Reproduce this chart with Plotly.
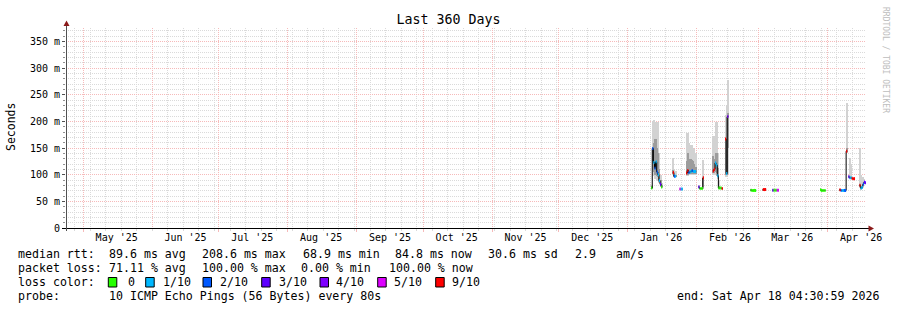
import plotly.graph_objects as go
from datetime import datetime, timedelta

# ---------------- data ----------------
START = "2025-04-23 04:30:59"
END = "2026-04-18 04:30:59"
STEP_HOURS = 12

sample_time = [
    "2026-01-11 12:00", "2026-01-12 00:00", "2026-01-12 12:00", "2026-01-13 00:00", "2026-01-13 12:00",
    "2026-01-14 00:00", "2026-01-14 12:00", "2026-01-15 00:00", "2026-01-15 12:00", "2026-01-16 00:00",
    "2026-01-21 06:00", "2026-01-21 18:00", "2026-01-22 06:00",
    "2026-01-24 06:00", "2026-01-24 18:00", "2026-01-25 06:00",
    "2026-01-27 06:00", "2026-01-27 18:00", "2026-01-28 06:00", "2026-01-28 18:00", "2026-01-29 06:00",
    "2026-01-29 18:00", "2026-01-30 06:00", "2026-01-30 18:00", "2026-01-31 06:00",
    "2026-02-01 18:00", "2026-02-02 06:00", "2026-02-02 18:00", "2026-02-03 06:00", "2026-02-03 18:00",
    "2026-02-08 06:00", "2026-02-08 18:00", "2026-02-09 06:00", "2026-02-09 18:00", "2026-02-10 06:00",
    "2026-02-10 18:00", "2026-02-11 06:00", "2026-02-11 18:00", "2026-02-12 06:00",
    "2026-02-13 18:00", "2026-02-14 06:00", "2026-02-14 18:00",
    "2026-02-25 06:00", "2026-02-25 18:00", "2026-02-26 06:00", "2026-02-26 18:00", "2026-02-27 06:00",
    "2026-03-02 18:00", "2026-03-03 06:00", "2026-03-03 18:00",
    "2026-03-07 00:00", "2026-03-07 12:00", "2026-03-08 00:00", "2026-03-08 12:00", "2026-03-09 00:00", "2026-03-09 12:00",
    "2026-03-28 12:00", "2026-03-29 00:00", "2026-03-29 12:00", "2026-03-30 00:00", "2026-03-30 12:00",
    "2026-04-06 06:00", "2026-04-06 18:00", "2026-04-07 06:00", "2026-04-07 18:00", "2026-04-08 06:00",
    "2026-04-08 18:00", "2026-04-09 06:00",
    "2026-04-10 06:00", "2026-04-10 18:00", "2026-04-11 06:00", "2026-04-11 18:00", "2026-04-12 06:00", "2026-04-12 18:00",
    "2026-04-15 06:00", "2026-04-15 18:00", "2026-04-16 06:00", "2026-04-16 18:00", "2026-04-17 06:00", "2026-04-17 18:00",
]

median_ms = [
    75, 149, 123, 112, 124, 105, 100, 89, 82, 77,
    104, 97, 97,
    73, 73, 73,
    103, 108, 104, 105, 106, 108, 106, 106, 106,
    77, 74, 74, 74, 94,
    107, 110, 122, 118, 98, 75, 75, 75, 74,
    167, 102, 209,
    71, 70.5, 70.5, 70.5, 70.5,
    72, 72, 72,
    71, 71, 71, 71, 71, 71,
    71.5, 70.5, 70.5, 70.5, 70.5,
    71.5, 70.5, 70.5, 70.5, 70.5, 70.5, 144,
    96, 94, 94, 93, 92.5, 92.5,
    80, 75, 76, 82, 86, 85,
]

# index into LOSS_LABELS / LOSS_COLORS
loss_level = [
    0, 2, 1, 2, 1, 2, 1, 1, 3, 0,
    6, 2, 1,
    5, 1, 1,
    6, 6, 2, 1, 1, 2, 1, 1, 1,
    3, 0, 0, 0, 6,
    6, 6, 1, 1, 1, 0, 0, 0, 6,
    6, 1, 4,
    0, 0, 0, 0, 0,
    6, 6, 6,
    3, 0, 0, 0, 5, 5,
    0, 0, 0, 0, 0,
    6, 2, 1, 1, 2, 2, 6,
    3, 1, 1, 6, 6, 6,
    6, 1, 1, 2, 3, 3,
]

N = None
smoke_outer_lo = [
    73, 110, 97, 92, 92, 90, 88, 85, 78, 75,
    100, 95, 95,
    N, N, N,
    98, 98, 100, 100, 100, 100, 100, 100, 100,
    75, N, N, N, 74,
    100, 100, 100, 98, 92, 74, N, N, N,
    96, 96, 102,
    N, N, N, N, N,
    N, N, N,
    N, N, N, N, N, N,
    N, N, N, N, N,
    N, N, N, N, N, N, 140,
    94, 92, 92, N, N, N,
    75, 72, 73, 78, 82, N,
]
smoke_outer_hi = [
    80, 200, 203, 198, 198, 198, 198, 140, 100, 85,
    131, 110, 106,
    N, N, N,
    178, 178, 159, 150, 156, 155, 150, 148, 140,
    80, N, N, N, 128,
    173, 173, 198, 198, 140, 90, N, N, N,
    212, 230, 278,
    N, N, N, N, N,
    N, N, N,
    N, N, N, N, N, N,
    N, N, N, N, N,
    N, N, N, N, N, N, 234,
    100, 131, 120, N, N, N,
    150, 100, 90, 95, 92, N,
]
smoke_inner_lo = [
    73, 125, 105, 100, 100, 98, 95, 86, 79, 76,
    101, 96, 96,
    N, N, N,
    100, 100, 101, 101, 102, 102, 102, 102, 102,
    N, N, N, N, 76,
    103, 103, 105, 103, 95, 74, N, N, N,
    100, 100, 150,
    69.5, N, N, N, N,
    71, N, N,
    N, N, N, N, N, N,
    70, N, N, N, N,
    70, N, N, N, N, N, 142,
    N, N, N, N, N, N,
    76, 73, N, N, N, N,
]
smoke_inner_hi = [
    78, 152, 160, 166, 166, 150, 140, 110, 90, 80,
    108, 100, 99,
    N, N, N,
    125, 140, 130, 125, 130, 128, 125, 120, 115,
    N, N, N, N, 94,
    135, 130, 140, 140, 112, 78, N, N, N,
    167, 209, 215,
    73, N, N, N, N,
    73.5, N, N,
    N, N, N, N, N, N,
    73, N, N, N, N,
    73, N, N, N, N, N, 150,
    N, N, N, N, N, N,
    82, 78, N, N, N, N,
]

LOSS_LABELS = ["0", "1/10", "2/10", "3/10", "4/10", "5/10", "9/10"]
LOSS_COLORS = ["#26ff00", "#00b8ff", "#0059ff", "#5e00ff", "#7e00ff", "#dd00ff", "#ff0000"]

MONTH_STARTS = ["2025-05-01", "2025-06-01", "2025-07-01", "2025-08-01", "2025-09-01", "2025-10-01",
                "2025-11-01", "2025-12-01", "2026-01-01", "2026-02-01", "2026-03-01", "2026-04-01"]
MONTH_LABEL_AT = ["2025-05-16", "2025-06-16", "2025-07-16", "2025-08-16", "2025-09-16", "2025-10-16",
                  "2025-11-16", "2025-12-16", "2026-01-16", "2026-02-16", "2026-03-16", "2026-04-16"]
MONTH_LABELS = ["May '25", "Jun '25", "Jul '25", "Aug '25", "Sep '25", "Oct '25",
                "Nov '25", "Dec '25", "Jan '26", "Feb '26", "Mar '26", "Apr '26"]
WEEK_TICK0 = "2025-04-27"

Y_RANGE = [0, 375]
Y_TICKS = [0, 50, 100, 150, 200, 250, 300, 350]
Y_TICK_LABELS = ["0", "50 m", "100 m", "150 m", "200 m", "250 m", "300 m", "350 m"]

TITLE = "Last 360 Days"
Y_TITLE = "Seconds"
RTT_STATS = ["median rtt:", "89.6 ms avg", "208.6 ms max", "68.9 ms min", "84.8 ms now", "30.6 ms sd", "2.9", "am/s"]
LOSS_STATS = ["packet loss:", "71.11 % avg", "100.00 % max", "0.00 % min", "100.00 % now"]
PROBE = ["probe:", "10 ICMP Echo Pings (56 Bytes) every 80s"]
END_TEXT = "end: Sat Apr 18 04:30:59 2026"
WATERMARK = "RRDTOOL / TOBI OETIKER"

# ---------------- layout helpers ----------------
W, H = 897, 310
L, T, PW, PH = 66, 28, 800, 200
FONT = "DejaVu Sans Mono"
RED = "#f6baba"
GRAY = "#dadada"


def fx(px):
    return (px - L) / PW


def fy(py):
    return (T + PH - py) / PH


fmt = "%Y-%m-%d %H:%M"
t = [datetime.strptime(s, fmt) for s in sample_time]
step = timedelta(hours=STEP_HOURS)
step_ms = STEP_HOURS * 3600 * 1000

fig = go.Figure()


def band(lo, hi, color):
    xs, base, hts = [], [], []
    for ti, a, b in zip(t, lo, hi):
        if a is None:
            continue
        xs.append(ti)
        base.append(a)
        hts.append(b - a)
    fig.add_trace(go.Bar(x=xs, y=hts, base=base, width=[step_ms] * len(xs), offset=0,
                         marker=dict(color=color, line=dict(width=0)), hoverinfo="skip"))


band(smoke_outer_lo, smoke_outer_hi, "#d2d2d2")
band(smoke_inner_lo, smoke_inner_hi, "#9c9c9c")

# median as a dark step line
sx, sy = [], []
for i, (ti, m) in enumerate(zip(t, median_ms)):
    if i > 0 and ti - t[i - 1] != step:
        sx += [t[i - 1] + step, None]
        sy += [median_ms[i - 1], None]
    sx.append(ti)
    sy.append(m)
sx.append(t[-1] + step)
sy.append(median_ms[-1])
fig.add_trace(go.Scatter(x=sx, y=sy, mode="lines", line=dict(color="#000000", width=1, shape="hv"),
                         hoverinfo="skip"))

# loss-coloured median segments
for k, col in enumerate(LOSS_COLORS):
    xs, ys = [], []
    for ti, m, lv in zip(t, median_ms, loss_level):
        if lv == k:
            xs += [ti, ti + step, None]
            ys += [m, m, None]
    if xs:
        fig.add_trace(go.Scatter(x=xs, y=ys, mode="lines", line=dict(color=col, width=3),
                                 hoverinfo="skip"))

# invisible carrier so the month-label axis is drawn
fig.add_trace(go.Scatter(x=[START, END], y=[0, 0], xaxis="x2", yaxis="y", mode="lines",
                         line=dict(width=0, color="rgba(0,0,0,0)"), hoverinfo="skip"))

ann = []


def txt(s, px, py, size=11.6, anchor="left", color="black", angle=0):
    ann.append(dict(text=s.replace(" ", "\u00a0"), x=fx(px), y=fy(py), xref="paper", yref="paper",
                    xanchor=anchor, yanchor="middle", showarrow=False, textangle=angle,
                    font=dict(family=FONT, size=size, color=color)))


txt(Y_TITLE, 11, 127, size=11.5, anchor="center", angle=-90)
txt(WATERMARK, 886, 60, size=8, anchor="center", color="#bdbdbd", angle=90)

for s, px in zip(RTT_STATS, [16, 107.3, 200, 300.7, 393.3, 486, 572.7, 614]):
    txt(s, px, 254.3)
for s, px in zip(LOSS_STATS, [16, 107.3, 200, 299.3, 386.7]):
    txt(s, px, 268.3)
txt("loss color:", 16, 282.3)
box_x = [108.3, 145.7, 203, 261.7, 320, 377.7, 435.7]
lab_x = [126, 160.7, 218, 276.7, 334, 391.7, 450]
shapes = []
for lab, col, bx, lx in zip(LOSS_LABELS, LOSS_COLORS, box_x, lab_x):
    txt(lab, lx, 282.3)
    shapes.append(dict(type="rect", xref="paper", yref="paper", x0=fx(bx), x1=fx(bx + 8.5),
                       y0=fy(287), y1=fy(277.5), fillcolor=col, line=dict(color="black", width=1)))
txt(PROBE[0], 16, 296.3)
txt(PROBE[1], 107.3, 296.3)
txt(END_TEXT, 880.7, 296.3, anchor="right")

# axis lines and arrows
shapes.append(dict(type="line", xref="paper", yref="paper", x0=fx(62), x1=fx(870), y0=fy(228.5), y1=fy(228.5),
                   line=dict(color="black", width=1)))
shapes.append(dict(type="line", xref="paper", yref="paper", x0=fx(66.5), x1=fx(66.5), y0=fy(231), y1=fy(24),
                   line=dict(color="#505050", width=1)))
shapes.append(dict(type="path", xref="paper", yref="paper",
                   path=f"M {fx(66.5)},{fy(20.5)} L {fx(63.5)},{fy(26)} L {fx(69.5)},{fy(26)} Z",
                   fillcolor="#8b1a1a", line=dict(color="#8b1a1a", width=0)))
shapes.append(dict(type="path", xref="paper", yref="paper",
                   path=f"M {fx(874)},{fy(228.5)} L {fx(868.5)},{fy(225.5)} L {fx(868.5)},{fy(231.5)} Z",
                   fillcolor="#8b1a1a", line=dict(color="#8b1a1a", width=0)))

fig.update_layout(
    width=W, height=H, autosize=False,
    margin=dict(l=L, r=W - L - PW, t=T, b=H - T - PH, pad=0),
    paper_bgcolor="white", plot_bgcolor="white",
    showlegend=False, barmode="overlay", bargap=0,
    font=dict(family=FONT, size=10, color="black"),
    title=dict(text=TITLE, x=0.5, xref="container", xanchor="center", y=1 - 19 / H, yref="container",
               yanchor="middle", font=dict(family=FONT, size=13.3, color="black")),
    xaxis=dict(type="date", range=[START, END], tickmode="array", tickvals=MONTH_STARTS,
               ticktext=[""] * len(MONTH_STARTS), showticklabels=False,
               showgrid=True, gridcolor=RED, griddash="1px,1px", gridwidth=1,
               ticks="outside", ticklen=3, tickcolor=RED, showline=False, zeroline=False,
               minor=dict(dtick=7 * 86400000, tick0=WEEK_TICK0, showgrid=True, gridcolor=GRAY,
                          griddash="1px,1px", ticks="outside", ticklen=2, tickcolor=GRAY)),
    xaxis2=dict(type="date", overlaying="x", anchor="y", side="bottom", range=[START, END],
                tickmode="array", tickvals=MONTH_LABEL_AT, ticktext=MONTH_LABELS,
                showgrid=False, ticks="", showline=False, zeroline=False, ticklabelstandoff=2,
                tickfont=dict(family=FONT, size=10, color="black")),
    yaxis=dict(range=Y_RANGE, tickmode="array", tickvals=Y_TICKS, ticktext=Y_TICK_LABELS,
               showgrid=True, gridcolor=RED, griddash="1px,1px", ticks="outside", ticklen=3,
               tickcolor="#505050", zeroline=False, showline=False,
               tickfont=dict(family=FONT, size=10, color="black"),
               minor=dict(dtick=10, showgrid=True, gridcolor=GRAY, griddash="1px,1px",
                          ticks="outside", ticklen=2, tickcolor="#909090")),
    annotations=ann, shapes=shapes,
)

fig.write_html("out.html")
